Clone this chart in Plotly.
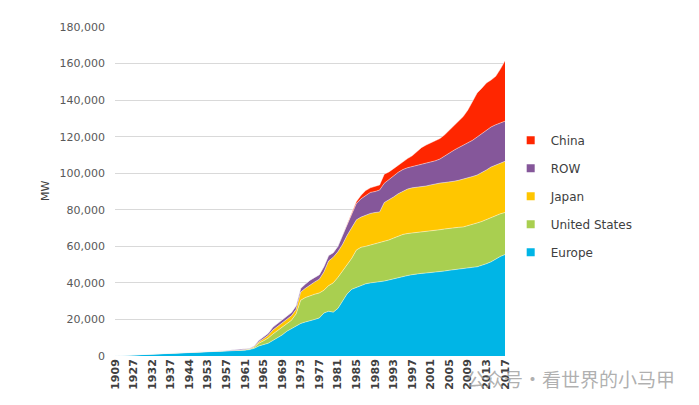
import plotly.graph_objects as go

years = [1909, 1912, 1918, 1923, 1927, 1928, 1929, 1930, 1932, 1933, 1934, 1935,
         1937, 1938, 1940, 1942, 1944, 1946, 1948, 1950, 1953, 1954, 1955, 1956] + list(range(1957, 2018))
categories = [str(y) for y in years]
tick_labels = ["1909", "1927", "1932", "1937", "1944", "1953", "1957", "1961", "1965", "1969",
               "1973", "1977", "1981", "1985", "1989", "1993", "1997", "2001", "2005", "2009",
               "2013", "2017"]

europe = [100, 200, 300, 400, 500, 600, 700, 800, 900, 950, 1000, 1100, 1200, 1300, 1400, 1500,
          1600, 1700, 1800, 1900, 2000, 2100, 2200, 2300, 2500, 2600, 2800, 3000, 3200, 3500,
          4200, 5500, 6200, 7000, 8500, 10000, 11500, 13500, 15000, 16500, 17800, 18600, 19500,
          20000, 20800, 23500, 24500, 24000, 26000, 30000, 34000, 36500, 37500, 38500, 39500,
          40000, 40300, 40500, 41000, 41600, 42300, 43000, 43500, 44000, 44500, 45000, 45200,
          45400, 45600, 45800, 46100, 46500, 46900, 47300, 47600, 48000, 48200, 48500, 48800,
          49500, 50500, 51500, 53000, 54500, 55500]
united_states = [50, 50, 50, 50, 50, 50, 50, 50, 50, 50, 100, 100, 100, 100, 100, 100, 100, 100,
                 100, 100, 100, 100, 100, 150, 150, 200, 200, 200, 200, 300, 600, 1500, 2100,
                 2800, 3500, 3800, 4000, 4000, 4500, 6500, 12700, 13400, 13500, 13800, 13700,
                 12500, 14000, 16000, 17000, 16500, 16000, 17000, 20500, 21000, 20500, 20700,
                 20900, 21300, 21500, 21900, 22200, 22500, 23000, 23000, 22800, 22500, 22500,
                 22400, 22600, 22900, 23000, 23000, 23000, 22900, 22800, 22600, 23000, 23500,
                 24000, 24100, 24100, 24500, 24000, 23300, 23000]
japan = [0, 0, 50, 50, 50, 50, 50, 50, 50, 100, 100, 100, 100, 100, 100, 100, 100, 100, 100, 100,
         100, 100, 150, 150, 150, 150, 150, 150, 200, 200, 400, 800, 1200, 1500, 2200, 2400, 2500,
         2500, 2500, 2500, 4500, 5000, 6000, 6700, 7500, 10000, 13500, 14000, 14000, 14500,
         16000, 16500, 16500, 16500, 17000, 17300, 17300, 17000, 21500, 21800, 22500, 23300,
         23500, 24300, 24700, 24800, 25000, 25200, 25400, 25500, 25500, 25400, 25200, 25400,
         25700, 26100, 26200, 26200, 26200, 26700, 27200, 27400, 27500, 27700, 28000]
row = [50, 50, 50, 50, 100, 100, 100, 100, 150, 150, 150, 150, 150, 200, 200, 200, 200, 200, 200,
       250, 300, 300, 300, 300, 300, 300, 300, 300, 300, 300, 400, 800, 1000, 1100, 1600, 1600,
       1800, 1800, 1800, 2000, 2000, 2400, 2500, 2500, 2500, 3000, 3000, 2500, 3000, 5000, 6000,
       8000, 9000, 10000, 11000, 11500, 11500, 12000, 10500, 11000, 11500, 11700, 12000, 11700,
       11600, 11900, 12300, 12600, 12600, 12600, 13200, 14600, 15900, 17000, 17900, 18600,
       19200, 19800, 20800, 21200, 21700, 21900, 22000, 22000, 22000]
china = [0] * 52 + [1000, 2000, 2500, 2500, 2800, 2800, 5000, 4400, 4000, 4000, 4500, 5000, 5900,
                    7300, 9000, 9800, 10300, 10700, 11200, 11500, 12500, 13800, 14500, 15700,
                    18000, 21500, 24100, 25000, 25900, 25700, 26500, 29500, 33000]

series = [
    ("Europe", europe, "#00b5e6"),
    ("United States", united_states, "#a9cf50"),
    ("Japan", japan, "#ffc600"),
    ("ROW", row, "#85579a"),
    ("China", china, "#ff2600"),
]

fig = go.Figure()
for name, vals, color in series:
    fig.add_trace(go.Scatter(
        x=categories, y=vals, name=name, stackgroup="one", mode="lines",
        line=dict(width=0.8, color="rgba(255,255,255,0.55)"),
        fillcolor=color, showlegend=False, hoverinfo="x+y+name",
    ))
# legend entries with square markers (top of stack listed first)
for name, vals, color in reversed(series):
    fig.add_trace(go.Scatter(
        x=[None], y=[None], name=name, mode="markers", legendgroup=name,
        marker=dict(symbol="square", size=8, color=color), showlegend=True,
    ))

fig.add_annotation(text="MW", xref="paper", yref="paper", x=(37 - 115) / 390, y=0.5,
                   textangle=-90, showarrow=False,
                   font=dict(family="DejaVu Sans", size=11, color="#404040"))
fig.add_annotation(text="公众号·看世界的小马甲", xref="paper", yref="paper",
                   x=(677 - 115) / 390, y=(356 - 378) / 329, xanchor="right", yanchor="middle",
                   showarrow=False,
                   font=dict(family="Noto Sans CJK SC", size=19, color="rgba(150,150,150,0.75)"))

fig.update_layout(
    width=699, height=405,
    margin=dict(l=115, r=194, t=27, b=49),
    paper_bgcolor="white", plot_bgcolor="white",
    font=dict(family="DejaVu Sans", size=11, color="#404040"),
    legend=dict(traceorder="grouped", x=1.0146, xanchor="left", y=0.70, yanchor="top",
                font=dict(family="DejaVu Sans", size=12, color="#404040"),
                tracegroupgap=9, itemwidth=30, bgcolor="rgba(0,0,0,0)"),
    xaxis=dict(type="category", range=[0, 84], tickmode="array", tickvals=tick_labels,
               ticktext=tick_labels, tickangle=-90, showgrid=False, showline=False,
               ticks="", tickfont=dict(family="DejaVu Sans", size=11, color="#404040", weight="bold")),
    yaxis=dict(range=[0, 180000], dtick=20000, tickformat=",", showgrid=True,
               gridcolor="#d9d9d9", gridwidth=1, zeroline=False, showline=False,
               ticklabelstandoff=9,
               tickfont=dict(family="DejaVu Sans", size=11, color="#595959")),
)

fig.write_html("out.html")
